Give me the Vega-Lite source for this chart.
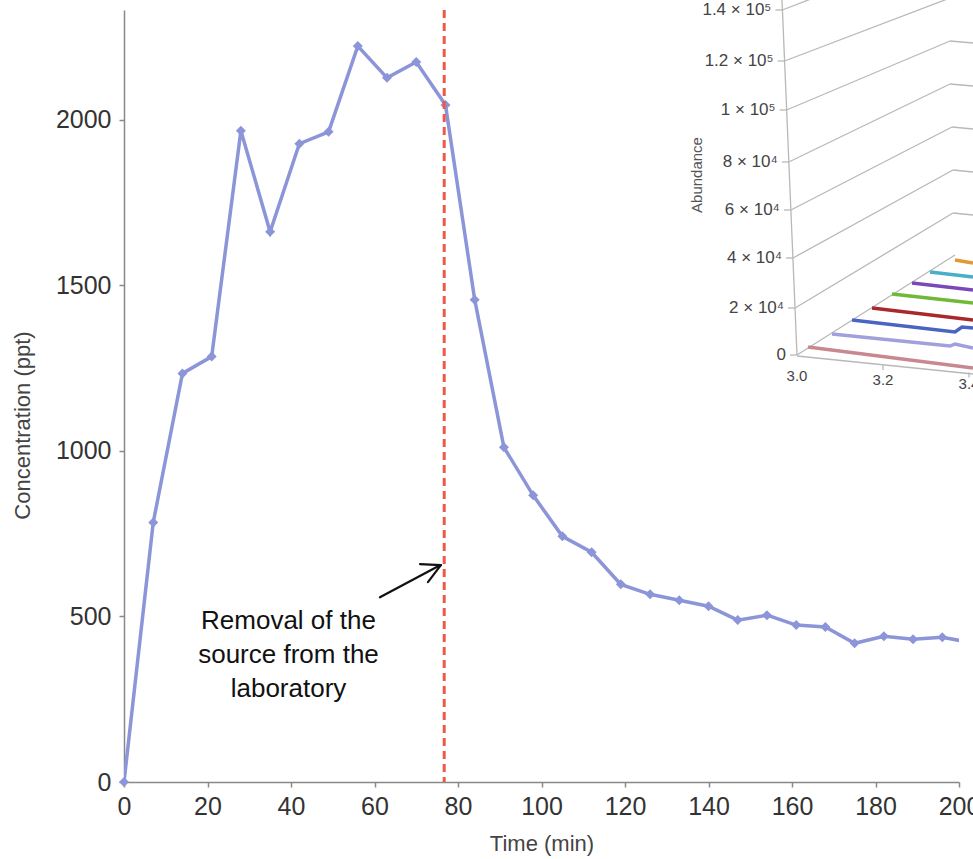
{
  "$schema": "https://vega.github.io/schema/vega-lite/v6.json",
  "width": 835,
  "height": 772,
  "autosize": {"type": "none"},
  "padding": {"left": 124, "top": 10, "right": 14, "bottom": 77},
  "background": "white",
  "config": {"view": {"stroke": null}, "font": "Liberation Sans"},
  "datasets": {
    "conc": [
      {"t": 0, "c": 0}, {"t": 7, "c": 784}, {"t": 14, "c": 1234}, {"t": 21, "c": 1285},
      {"t": 28, "c": 1967}, {"t": 35, "c": 1662}, {"t": 42, "c": 1928}, {"t": 49, "c": 1964},
      {"t": 56, "c": 2223}, {"t": 63, "c": 2127}, {"t": 70, "c": 2175}, {"t": 77, "c": 2045},
      {"t": 84, "c": 1457}, {"t": 91, "c": 1011}, {"t": 98, "c": 866}, {"t": 105, "c": 742},
      {"t": 112, "c": 694}, {"t": 119, "c": 597}, {"t": 126, "c": 567}, {"t": 133, "c": 549},
      {"t": 140, "c": 531}, {"t": 147, "c": 489}, {"t": 154, "c": 504}, {"t": 161, "c": 474},
      {"t": 168, "c": 468}, {"t": 175, "c": 419}, {"t": 182, "c": 440}, {"t": 189, "c": 431},
      {"t": 196, "c": 437}, {"t": 203, "c": 421}
    ],
    "removal": [{"t": 76.7}],
    "arrow": [
      {"t": 61.3, "c": 558, "t2": 75.7, "c2": 655},
      {"t": 70.9, "c": 658, "t2": 75.9, "c2": 655},
      {"t": 72.8, "c": 604, "t2": 75.9, "c2": 655}
    ],
    "note": [{"t": 39.4, "c": 486, "label": "Removal of the\nsource from the\nlaboratory"}],
    "grid": [
      {"u": 2.96605, "v": 140000, "u2": 3.08605, "v2": 148116},
      {"u": 2.97116, "v": 119304, "u2": 3.35581, "v2": 144870},
      {"u": 2.97581, "v": 99420, "u2": 3.35581, "v2": 127420},
      {"u": 3.35581, "v": 127420, "u2": 3.4093, "v2": 126609},
      {"u": 2.98093, "v": 78319, "u2": 3.35581, "v2": 109971},
      {"u": 3.35581, "v": 109971, "u2": 3.4093, "v2": 109159},
      {"u": 2.98581, "v": 58841, "u2": 3.36047, "v2": 92522},
      {"u": 3.36047, "v": 92522, "u2": 3.4093, "v2": 91710},
      {"u": 2.9907, "v": 39362, "u2": 3.36279, "v2": 75072},
      {"u": 3.36279, "v": 75072, "u2": 3.4093, "v2": 74261},
      {"u": 2.99558, "v": 19072, "u2": 3.36279, "v2": 57623},
      {"u": 3.36279, "v": 57623, "u2": 3.4093, "v2": 56812},
      {"u": 3.0, "v": 0, "u2": 3.36744, "v2": 40580},
      {"u": 3.0, "v": 0, "u2": 2.96512, "v2": 144058},
      {"u": 3.0, "v": -406, "u2": 3.4093, "v2": -7710},
      {"u": 3.2, "v": -4058, "u2": 3.2, "v2": -6087},
      {"u": 3.4, "v": -7100, "u2": 3.4, "v2": -9130}
    ],
    "ticks": [
      {"label": "1.4 × 10⁵", "u0": 2.94977, "u": 2.96605, "v": 140000},
      {"label": "1.2 × 10⁵", "u0": 2.95488, "u": 2.97116, "v": 119304},
      {"label": "1 × 10⁵", "u0": 2.95953, "u": 2.97581, "v": 99420},
      {"label": "8 × 10⁴", "u0": 2.96465, "u": 2.98093, "v": 78319},
      {"label": "6 × 10⁴", "u0": 2.96953, "u": 2.98581, "v": 58841},
      {"label": "4 × 10⁴", "u0": 2.97442, "u": 2.9907, "v": 39362},
      {"label": "2 × 10⁴", "u0": 2.9793, "u": 2.99558, "v": 19072},
      {"label": "0", "u0": 2.98372, "u": 3.0, "v": 0}
    ],
    "xlabels": [
      {"label": "3.0", "u": 3.0, "v": -8522},
      {"label": "3.2", "u": 3.2, "v": -10145},
      {"label": "3.4", "u": 3.4, "v": -11768}
    ],
    "ititle": [{"label": "Abundance", "u": 2.76744, "v": 73043}],
    "traces": [
      {"s": "s1", "u": 3.36744, "v": 38551}, {"s": "s1", "u": 3.4093, "v": 37333},
      {"s": "s2", "u": 3.3093, "v": 33681}, {"s": "s2", "u": 3.4093, "v": 31652},
      {"s": "s3", "u": 3.26744, "v": 29217}, {"s": "s3", "u": 3.4093, "v": 26377},
      {"s": "s4", "u": 3.22093, "v": 24754}, {"s": "s4", "u": 3.4093, "v": 21101},
      {"s": "s5", "u": 3.17442, "v": 19072}, {"s": "s5", "u": 3.4093, "v": 14203},
      {"s": "s6", "u": 3.12791, "v": 14203}, {"s": "s6", "u": 3.36744, "v": 9333},
      {"s": "s6", "u": 3.38372, "v": 11362}, {"s": "s6", "u": 3.4093, "v": 10957},
      {"s": "s7", "u": 3.0814, "v": 8522}, {"s": "s7", "u": 3.35581, "v": 3652},
      {"s": "s7", "u": 3.36744, "v": 4464}, {"s": "s7", "u": 3.4093, "v": 2841},
      {"s": "s8", "u": 3.02558, "v": 3246}, {"s": "s8", "u": 3.4093, "v": -5275}
    ]
  },
  "layer": [
    {
      "layer": [
        {
          "data": {"name": "conc"},
          "mark": {"type": "line", "color": "#8b95d8", "strokeWidth": 3.5, "clip": true},
          "encoding": {
            "x": {
              "field": "t", "type": "quantitative",
              "scale": {"domain": [0, 200], "nice": false, "zero": false},
              "axis": {
                "title": "Time (min)", "values": [0, 20, 40, 60, 80, 100, 120, 140, 160, 180, 200],
                "grid": false, "domainColor": "#888", "domainWidth": 1.5,
                "tickColor": "#888", "tickWidth": 1.5, "tickSize": 5,
                "labelFontSize": 25, "labelColor": "#333", "labelPadding": 7,
                "labelFlush": false, "labelOverlap": false, "labelBound": false,
                "titleFontSize": 22, "titleFontWeight": "normal", "titleColor": "#444",
                "titlePadding": 14
              }
            },
            "y": {
              "field": "c", "type": "quantitative",
              "scale": {"domain": [0, 2332], "nice": false},
              "axis": {
                "title": "Concentration (ppt)", "values": [0, 500, 1000, 1500, 2000], "format": "d",
                "grid": false, "domainColor": "#888", "domainWidth": 1.5,
                "tickColor": "#888", "tickWidth": 1.5, "tickSize": 5,
                "labelFontSize": 25, "labelColor": "#333", "labelPadding": 8,
                "labelOverlap": false, "labelBound": false,
                "titleFontSize": 22, "titleFontWeight": "normal", "titleColor": "#444",
                "titleX": -102, "titleY": 415, "titleBaseline": "middle"
              }
            }
          }
        },
        {
          "data": {"name": "conc"},
          "transform": [{"filter": "datum.t <= 200"}],
          "mark": {"type": "point", "shape": "diamond", "filled": true, "size": 100, "color": "#8b95d8", "opacity": 1},
          "encoding": {
            "x": {"field": "t", "type": "quantitative"},
            "y": {"field": "c", "type": "quantitative"}
          }
        },
        {
          "data": {"name": "removal"},
          "mark": {"type": "rule", "color": "#ee5a48", "strokeWidth": 3, "strokeDash": [8, 5]},
          "encoding": {
            "x": {"field": "t", "type": "quantitative"}
          }
        },
        {
          "data": {"name": "arrow"},
          "mark": {"type": "rule", "color": "#111", "strokeWidth": 2.2, "strokeCap": "round"},
          "encoding": {
            "x": {"field": "t", "type": "quantitative"},
            "y": {"field": "c", "type": "quantitative"},
            "x2": {"field": "t2"},
            "y2": {"field": "c2"}
          }
        },
        {
          "data": {"name": "note"},
          "mark": {"type": "text", "fontSize": 26, "color": "#111", "align": "center", "baseline": "middle", "lineBreak": "\n", "lineHeight": 34},
          "encoding": {
            "x": {"field": "t", "type": "quantitative"},
            "y": {"field": "c", "type": "quantitative"},
            "text": {"field": "label"}
          }
        }
      ]
    },
    {
      "layer": [
        {
          "data": {"name": "grid"},
          "mark": {"type": "rule", "color": "#b8b8b8", "strokeWidth": 1.3},
          "encoding": {
            "x": {"field": "u", "type": "quantitative", "axis": null, "scale": {"domain": [1.434884, 3.376744], "nice": false, "zero": false}},
            "y": {"field": "v", "type": "quantitative", "axis": null, "scale": {"domain": [-173275, 140000], "nice": false, "zero": false}},
            "x2": {"field": "u2"},
            "y2": {"field": "v2"}
          }
        },
        {
          "data": {"name": "ticks"},
          "mark": {"type": "rule", "color": "#b8b8b8", "strokeWidth": 1.3},
          "encoding": {
            "x": {"field": "u0", "type": "quantitative"},
            "x2": {"field": "u"},
            "y": {"field": "v", "type": "quantitative"}
          }
        },
        {
          "data": {"name": "ticks"},
          "mark": {"type": "text", "fontSize": 17, "color": "#444", "align": "right", "baseline": "middle", "dx": -4},
          "encoding": {
            "x": {"field": "u0", "type": "quantitative"},
            "y": {"field": "v", "type": "quantitative"},
            "text": {"field": "label"}
          }
        },
        {
          "data": {"name": "xlabels"},
          "mark": {"type": "text", "fontSize": 15, "color": "#444", "align": "center", "baseline": "middle"},
          "encoding": {
            "x": {"field": "u", "type": "quantitative"},
            "y": {"field": "v", "type": "quantitative"},
            "text": {"field": "label"}
          }
        },
        {
          "data": {"name": "ititle"},
          "mark": {"type": "text", "fontSize": 15, "color": "#555", "align": "center", "baseline": "middle", "angle": 270},
          "encoding": {
            "x": {"field": "u", "type": "quantitative"},
            "y": {"field": "v", "type": "quantitative"},
            "text": {"field": "label"}
          }
        },
        {
          "data": {"name": "traces"},
          "mark": {"type": "line", "strokeWidth": 3.5},
          "encoding": {
            "x": {"field": "u", "type": "quantitative"},
            "y": {"field": "v", "type": "quantitative"},
            "color": {
              "field": "s", "type": "nominal", "legend": null,
              "scale": {"domain": ["s1", "s2", "s3", "s4", "s5", "s6", "s7", "s8"],
                        "range": ["#e09a30", "#4aaec8", "#7a48b8", "#70b838", "#a8282c", "#4a64c2", "#a0a0dc", "#c88890"]}
            }
          }
        }
      ]
    }
  ],
  "resolve": {"scale": {"x": "independent", "y": "independent"}}
}
